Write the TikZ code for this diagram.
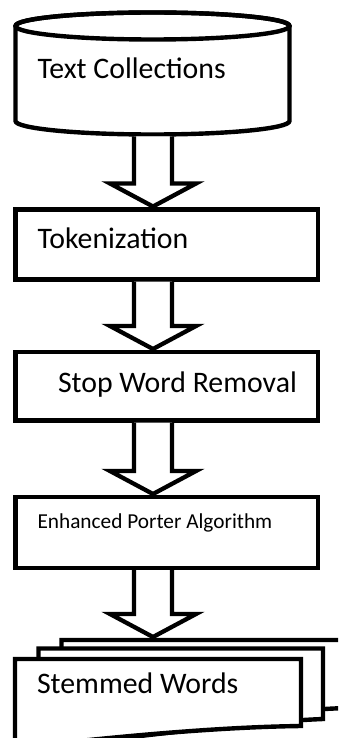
\documentclass[tikz,border=0pt]{standalone}
\usepackage{fontspec}
\setmainfont{Carlito}
\usetikzlibrary{calc}
\tikzset{
  outl/.style={line width=4.4pt, draw=black, fill=white, line join=miter},
  procbox/.style={outl, rectangle, minimum width=302.5pt, minimum height=70pt, outer sep=0pt, inner sep=0pt},
  ghost/.style={rectangle, inner sep=0pt, outer sep=0pt},
  lbl/.style={anchor=base west, inner sep=0pt, outer sep=0pt, font=\fontsize{29.8}{35}\selectfont},
  lblsmall/.style={lbl, font=\fontsize{21.3}{25}\selectfont},
  blockarrow/.style={line width=4.3pt, draw=black, fill=white, line join=miter, miter limit=10},
}
\newcommand{\flowarrow}[2]{%
  \path[blockarrow] let \p1=(#1.south -| axis), \p2=(#2.north -| axis) in
   (\x1-19pt,\y1-2pt) -- (\x1-19pt,\y2+26pt) -- (\x1-43pt,\y2+26pt) -- (\x1,\y2+3pt)
   -- (\x1+43pt,\y2+26pt) -- (\x1+19pt,\y2+26pt) -- (\x1+19pt,\y1-2pt);
}
\begin{document}
\begin{tikzpicture}[x=1pt, y=-1pt]
\clip (0,0) rectangle (338,738);
\coordinate (axis) at (153,0);

% cylinder: Text Collections
\node[ghost, minimum width=274pt, minimum height=122pt] (cyl) at (152.5,73.5) {};
\draw[outl] ($(cyl.north west)+(0,13.5)$) -- ($(cyl.south west)+(0,-13.5)$)
   arc[start angle=180, end angle=360, x radius=137pt, y radius=13.5pt]
   -- ($(cyl.north east)+(0,13.5)$)
   arc[start angle=0, end angle=180, x radius=137pt, y radius=13.5pt] -- cycle;
\draw[outl, fill=none] ($(cyl.north)+(0,13.5)$) ellipse[x radius=137pt, y radius=13.5pt];
\node[lbl] (t1) at (37.5,79) {Text Collections};

% process boxes
\node[procbox] (tok) at (166.75,244.5) {};
\node[lbl] (t2) at (37.5,248) {Tokenization};
\node[procbox, minimum height=68.5pt] (stop) at (166.75,386.25) {};
\node[lbl] (t3) at (58,392) {Stop Word Removal};
\node[procbox, minimum height=71pt] (epa) at (166.75,532.5) {};
\node[lblsmall] (t4) at (37.5,528) {Enhanced Porter Algorithm};

% multi-document: Stemmed Words
\node[ghost, minimum width=283.5pt, minimum height=98pt] (stem) at (203.25,689) {};
\draw[outl] (61.5,640) -- (345,640) -- (345,708) .. controls (250,712) and (150,725) .. (61.5,745) -- cycle;
\draw[outl] (38.5,648.5) -- (323,648.5) -- (323,719) .. controls (250,722) and (150,735) .. (38.5,748) -- cycle;
\draw[outl] (15,659) -- (301,659) -- (301,726) .. controls (220,727) and (120,736) .. (15,748) -- cycle;
\node[lbl] (t5) at (37,693) {Stemmed Words};

% block arrows
\flowarrow{cyl}{tok}
\flowarrow{tok}{stop}
\flowarrow{stop}{epa}
\flowarrow{epa}{stem}
\end{tikzpicture}
\end{document}
